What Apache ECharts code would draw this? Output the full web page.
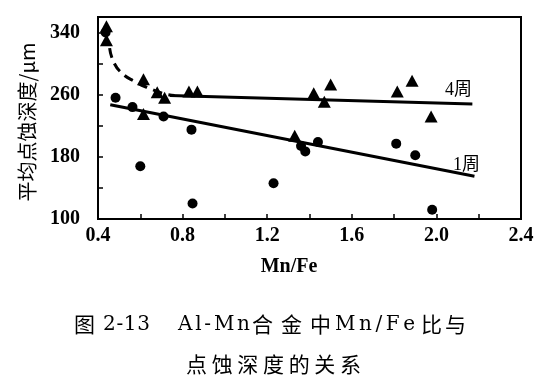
<!DOCTYPE html>
<html>
<head>
<meta charset="utf-8">
<script src="https://cdn.jsdelivr.net/npm/echarts@6/dist/echarts.min.js"></script>
<style>html,body{margin:0;padding:0;background:#fff;}#c{width:550px;height:386px;}</style>
</head>
<body>
<div id="c"></div>
<script>
// ---- data ----
const circleX = [0.436, 0.483, 0.563, 0.71, 0.842, 0.60, 0.847, 1.23, 1.36, 1.38, 1.44, 1.81, 1.90, 1.98];
const circleY = [340, 256, 244, 232, 215, 168, 120, 146, 194, 187, 199, 197, 182, 112];
const triX = [0.44, 0.44, 0.615, 0.68, 0.715, 0.83, 0.87, 0.615, 1.33, 1.42, 1.50, 1.47, 1.815, 1.885, 1.975];
const triY = [348, 330, 280, 263, 256, 264, 264, 235, 207, 262, 273, 251, 264, 278, 232];
const fit1X = [0.458, 2.18];
const fit1Y = [247, 155];
const fit4X = [0.74, 2.17];
const fit4Y = [259, 248];
const dashX = [0.455, 0.474, 0.512, 0.573, 0.644, 0.715, 0.762];
const dashY = [320, 302, 288, 277, 268, 261, 259];
const xLabelVals = [0.4, 0.8, 1.2, 1.6, 2.0, 2.4];
const xTickVals = [0.4, 0.6, 0.8, 1.0, 1.2, 1.4, 1.6, 1.8, 2.0, 2.2, 2.4];
const yLabelVals = [100, 180, 260, 340];
const yTickVals = [100, 140, 180, 220, 260, 300, 340];
const xName = 'Mn/Fe';
const yName = '平均点蚀深度/μm';
const label4 = '4周';
const label1 = '1周';

const zip = (a, b) => a.map((v, i) => [v, b[i]]);

const serif = 'Liberation Serif';
const capSerif = 'DejaVu Serif';
const cjk = 'Noto Sans CJK SC';

function txt(text, x, y, size, family, weight, align, rot) {
  const el = {type: 'text', x: x, y: y, silent: true,
    style: {text: text, fontSize: size, fontFamily: family, fontWeight: weight || 'normal', fill: '#000',
      textAlign: align || 'left', textVerticalAlign: 'middle', verticalAlign: 'middle'}};
  if (rot) el.rotation = rot;
  return el;
}

// per-character spreading for caption text (letter-spaced like the reference)
const cv = document.createElement('canvas').getContext('2d');
function spread(text, x0, x1, yc, size, family) {
  cv.font = size + 'px "' + family + '"';
  const chars = Array.from(text);
  const ws = chars.map(c => cv.measureText(c).width);
  const W = ws.reduce((a, b) => a + b, 0);
  const gap = chars.length > 1 ? (x1 - x0 - W) / (chars.length - 1) : 0;
  let x = x0;
  const out = [];
  chars.forEach((c, i) => {
    out.push(txt(c, x, yc, size, family));
    x += ws[i] + gap;
  });
  return out;
}

let graphics = [];
graphics = graphics.concat(
  spread('图', 74, 95, 324, 21, cjk),
  spread('2-13', 103, 150, 325, 20, capSerif),
  spread('Al-Mn', 178, 250, 325, 20, capSerif),
  spread('合金中', 252, 331, 324, 21, cjk),
  spread('Mn/Fe', 335, 415, 325, 20, capSerif),
  spread('比与', 421, 466, 324, 21, cjk),
  spread('点蚀深度的关系', 186, 361, 364, 21, cjk)
);
graphics.push(txt(xName, 289, 267, 20, serif, 'bold', 'center'));
graphics.push(txt(yName, 27, 122, 20, cjk, 'normal', 'center', Math.PI / 2));
graphics.push(txt(label4, 445, 90, 18, serif + ', ' + cjk));
graphics.push(txt(label1, 453, 165, 18, serif + ', ' + cjk));

const chart = echarts.init(document.getElementById('c'), null, {renderer: 'canvas'});
chart.setOption({
  backgroundColor: '#fff',
  animation: false,
  grid: {left: 98, right: 29, top: 17, bottom: 167, show: true, borderColor: '#000', borderWidth: 2, backgroundColor: 'transparent'},
  xAxis: {
    type: 'value', min: 0.4, max: 2.4, interval: 0.2,
    axisLine: {show: true, lineStyle: {color: '#000', width: 2}},
    axisTick: {show: true, inside: true, length: 5, customValues: xTickVals, lineStyle: {color: '#000', width: 1.5}},
    axisLabel: {show: true, customValues: xLabelVals, margin: 7, color: '#000', fontFamily: serif, fontWeight: 'bold', fontSize: 20,
      formatter: v => v.toFixed(1)},
    splitLine: {show: false}
  },
  yAxis: {
    type: 'value', min: 100, max: 360, interval: 20,
    axisLine: {show: true, lineStyle: {color: '#000', width: 2}},
    axisTick: {show: true, inside: true, length: 5, customValues: yTickVals, lineStyle: {color: '#000', width: 1.5}},
    axisLabel: {show: true, customValues: yLabelVals, margin: 18, color: '#000', fontFamily: serif, fontWeight: 'bold', fontSize: 20},
    splitLine: {show: false}
  },
  graphic: graphics,
  series: [
    {type: 'line', data: zip(fit1X, fit1Y), symbol: 'none', lineStyle: {color: '#000', width: 3}, z: 2},
    {type: 'line', data: zip(fit4X, fit4Y), symbol: 'none', lineStyle: {color: '#000', width: 3}, z: 2},
    {type: 'line', data: zip(dashX, dashY), symbol: 'none', smooth: true, lineStyle: {color: '#000', width: 3, type: [10, 6]}, z: 2},
    {type: 'scatter', name: '1周', data: zip(circleX, circleY), symbol: 'circle', symbolSize: 10, itemStyle: {color: '#000', opacity: 1}, z: 3},
    {type: 'scatter', name: '4周', data: zip(triX, triY), symbol: 'triangle', symbolSize: [13, 12], itemStyle: {color: '#000', opacity: 1}, z: 3}
  ]
});
</script>
</body>
</html>
